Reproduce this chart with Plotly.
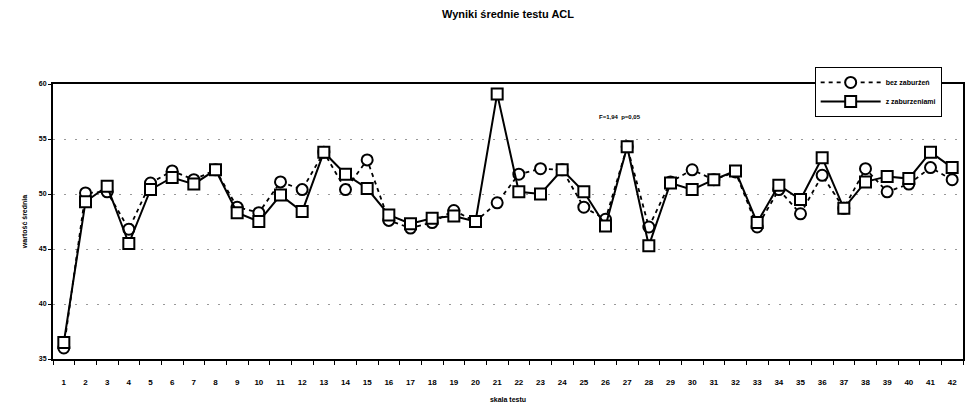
import plotly.graph_objects as go

categories = list(range(1, 43))
bez_zaburzen = [36.0, 50.1, 50.2, 46.8, 51.0, 52.1, 51.3, 52.2, 48.8, 48.3,
                51.1, 50.4, 53.8, 50.4, 53.1, 47.6, 46.9, 47.4, 48.5, 47.5,
                49.2, 51.8, 52.3, 52.2, 48.8, 47.7, 54.3, 47.0, 51.1, 52.2,
                51.3, 52.0, 47.0, 50.4, 48.2, 51.7, 48.7, 52.3, 50.2, 50.9,
                52.4, 51.3]
z_zaburzeniami = [36.5, 49.3, 50.7, 45.5, 50.4, 51.5, 50.9, 52.2, 48.3, 47.5,
                  49.9, 48.4, 53.8, 51.8, 50.5, 48.1, 47.3, 47.8, 48.0, 47.5,
                  59.1, 50.2, 50.0, 52.2, 50.2, 47.1, 54.3, 45.3, 51.0, 50.4,
                  51.3, 52.1, 47.4, 50.8, 49.5, 53.3, 48.7, 51.1, 51.6, 51.4,
                  53.8, 52.4]
y_ticks = [35, 40, 45, 50, 55, 60]

FONT = "Liberation Sans, Arial, sans-serif"

fig = go.Figure()
fig.add_trace(go.Scatter(
    x=categories, y=bez_zaburzen, name="bez zaburżeń", mode="lines+markers",
    line=dict(color="black", width=1.8, dash="4px,4px"),
    marker=dict(symbol="circle", size=11, color="white", line=dict(color="black", width=2)),
))
fig.add_trace(go.Scatter(
    x=categories, y=z_zaburzeniami, name="z zaburzeniami", mode="lines+markers",
    line=dict(color="black", width=2),
    marker=dict(symbol="square", size=11, color="white", line=dict(color="black", width=2)),
))

fig.add_annotation(x=0.623, y=0.9, xref="paper", yref="paper", text="F=1,94  p=0,05",
                   showarrow=False, font=dict(family=FONT, size=6, color="black", weight="bold"))

# page body has an 8px margin, so the figure is sized to fit the 977x408 window
fig.update_layout(
    width=969, height=400,
    margin=dict(l=45, r=14, t=76, b=49, autoexpand=False),
    paper_bgcolor="white", plot_bgcolor="white",
    title=dict(text="Wyniki średnie testu ACL", x=0.5, xref="paper", y=0.985, yanchor="middle",
               font=dict(family=FONT, size=11, color="black", weight="bold")),
    font=dict(family=FONT, size=8, color="black"),
    showlegend=True,
    legend=dict(x=0.837, y=1.062, xanchor="left", yanchor="top", xref="paper", yref="paper",
                bordercolor="black", borderwidth=1, bgcolor="white",
                font=dict(family=FONT, size=7, color="black", weight="bold"),
                itemwidth=60, tracegroupgap=0),
)

fig.update_xaxes(
    range=[0.5, 42.5], tickmode="array", tickvals=categories, ticktext=[str(c) for c in categories],
    ticks="", showgrid=False, zeroline=False, automargin=False,
    showline=True, linecolor="black", linewidth=2, mirror=True,
    tickfont=dict(family=FONT, size=8, color="black", weight="bold"),
    ticklabelstandoff=14,
    minor=dict(ticks="outside", tick0=0.5, dtick=1, ticklen=4, tickcolor="black", tickwidth=1, showgrid=False),
    title=dict(text="skala testu", font=dict(family=FONT, size=7, color="black", weight="bold"), standoff=12),
)
fig.update_yaxes(
    range=[35, 60], tickvals=y_ticks, ticks="outside", ticklen=3, tickcolor="black",
    showgrid=True, gridcolor="#999", griddash="2px,9px", gridwidth=1, zeroline=False, automargin=False,
    showline=True, linecolor="black", linewidth=2, mirror=True,
    tickfont=dict(family=FONT, size=7, color="black", weight="bold"),
    title=dict(text="wartość średnia", font=dict(family=FONT, size=7, color="black", weight="bold"), standoff=10),
)

fig.write_html("out.html")
